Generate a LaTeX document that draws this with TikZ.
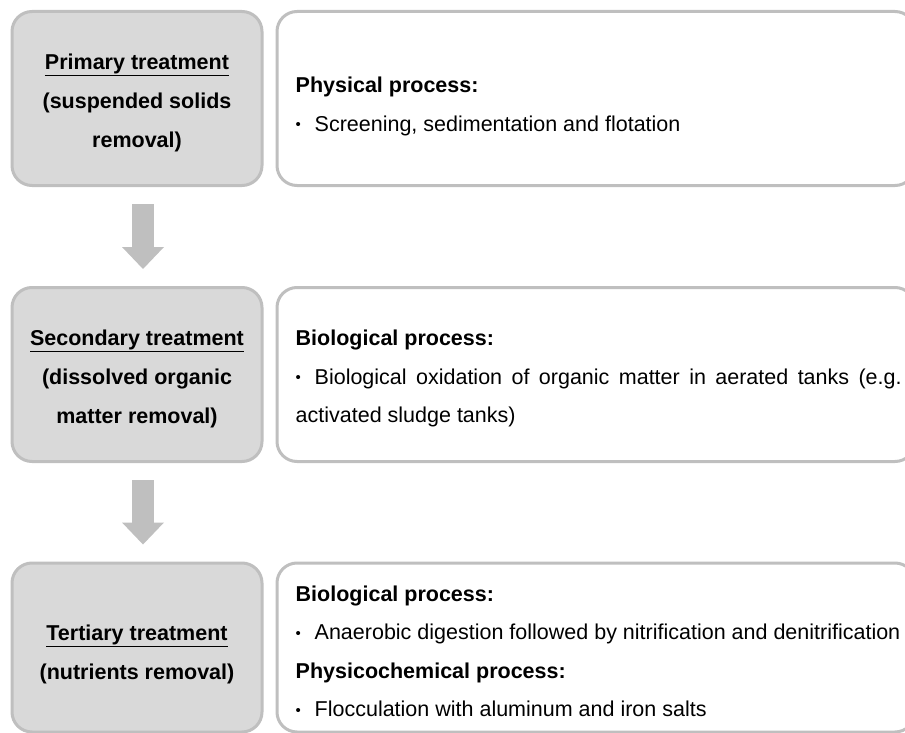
\documentclass[tikz,border=0pt]{standalone}
\usepackage{fontspec}
\setmainfont{Liberation Sans}
\usetikzlibrary{arrows.meta,positioning}

\definecolor{boxline}{HTML}{BFBFBF}
\definecolor{boxfill}{HTML}{D9D9D9}

% bullet line with hanging indent
\newcommand{\bitem}[1]{\par\hangindent=19pt\hangafter=1\noindent
  \makebox[19pt][l]{\raisebox{1.5pt}{\fontsize{15}{15}\selectfont\textbullet}}#1}

\begin{document}
\begin{tikzpicture}[x=1pt,y=-1pt,
    every node/.style={font=\fontsize{21.5}{38.5}\selectfont},
    stagebox/.style={draw=boxline, fill=boxfill, line width=3pt, rounded corners=20pt,
      minimum width=250pt, minimum height=174pt, inner sep=0pt, align=center,
      font=\fontsize{21.5}{39}\selectfont\bfseries},
    procbox/.style={draw=boxline, fill=white, line width=3pt, rounded corners=20pt,
      minimum width=638pt, minimum height=174pt, inner sep=0pt},
    proctext/.style={anchor=west, text width=606pt, align=justify, inner sep=0pt},
    flowarrow/.style={boxline, line width=22pt,
      -{Triangle[length=22pt, width=42pt, line width=0pt]}}]
  \useasboundingbox (0,0) rectangle (905,733);

  % treatment stages
  \node[stagebox] (prim) at (137,98.5)
    {\rule{0pt}{24pt}\underline{Primary treatment}\\(suspended solids\\removal)};
  \node[stagebox] (sec) at (137,374.5)
    {\rule{0pt}{25pt}\underline{Secondary treatment}\\(dissolved organic\\matter removal)};
  \node[stagebox, minimum height=169pt] (tert) at (137,647.5)
    {\rule{0pt}{29pt}\underline{Tertiary treatment}\\(nutrients removal)};

  % process boxes
  \node[procbox, right=12pt of prim] (phys) {};
  \node[procbox, right=12pt of sec] (bio) {};
  \node[procbox, minimum height=169pt, right=12pt of tert] (nutr) {};

  \node[proctext] (physTxt) at ([xshift=20pt,yshift=-8pt]phys.west)
    {\textbf{Physical process:}
     \bitem{Screening, sedimentation and flotation}};
  \node[proctext] (bioTxt) at ([xshift=20pt,yshift=-4pt]bio.west)
    {\textbf{Biological process:}
     \bitem{Biological oxidation of organic matter in aerated tanks (e.g.\linebreak
       activated sludge tanks)}};
  \node[proctext] (nutrTxt) at ([xshift=20pt,yshift=-4pt]nutr.west)
    {\textbf{Biological process:}
     \bitem{Anaerobic digestion followed by nitrification and denitrification}
     \par\noindent\textbf{Physicochemical process:}
     \bitem{Flocculation with aluminum and iron salts}};

  % arrows between stages
  \draw[flowarrow] ([xshift=6pt,yshift=-17pt]prim.south) -- ([xshift=6pt,yshift=17pt]sec.north);
  \draw[flowarrow] ([xshift=6pt,yshift=-17pt]sec.south) -- ([xshift=6pt,yshift=17pt]tert.north);
\end{tikzpicture}
\end{document}
